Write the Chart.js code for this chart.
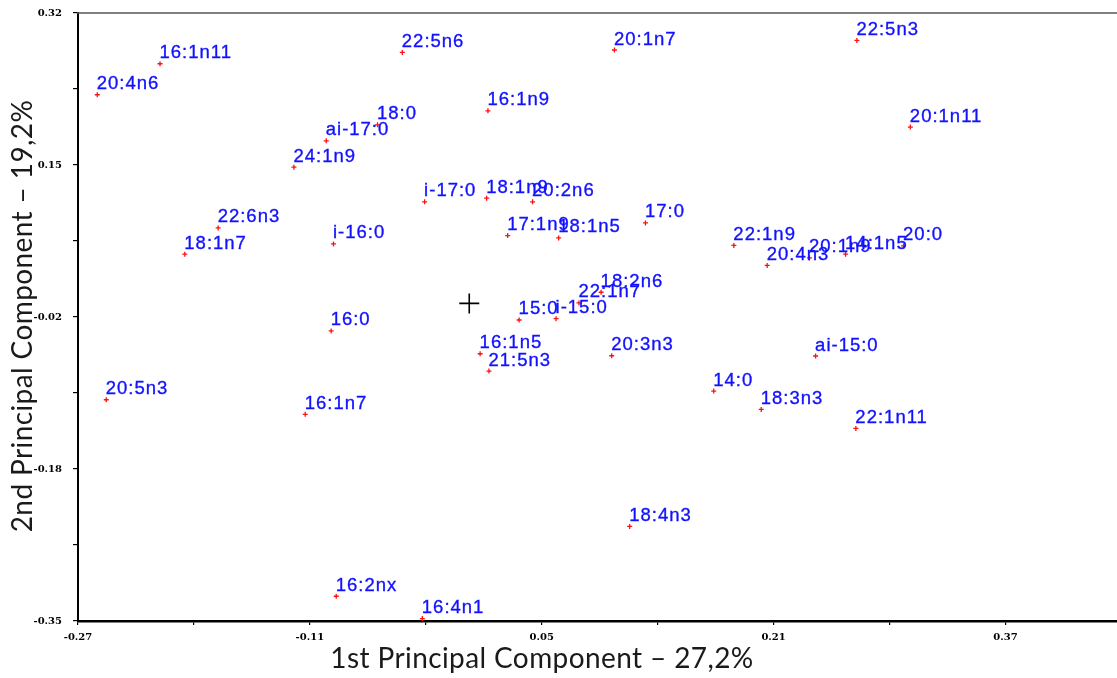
<!DOCTYPE html>
<html>
<head>
<meta charset="utf-8">
<script src="https://cdn.jsdelivr.net/npm/chart.js@4.4.1/dist/chart.umd.min.js"></script>
<style>
  html, body { margin: 0; padding: 0; background: #fff; }
  #wrap { width: 1117px; height: 678px; }
</style>
</head>
<body>
<div id="wrap"><canvas id="pca" width="1117" height="678"></canvas></div>
<script>
// Fatty acid loadings on the first two principal components
const acidNames = [
  '20:4n6', '16:1n11', '22:5n6', '20:1n7', '22:5n3', '16:1n9', '18:0', 'ai-17:0',
  '24:1n9', '20:1n11', 'i-17:0', '18:1n9', '20:2n6', '17:0', '17:1n9', '18:1n5',
  '22:6n3', '18:1n7', 'i-16:0', '22:1n9', '20:4n3', '20:1n9', '14:1n5', '20:0',
  '18:2n6', '22:1n7', '15:0', 'i-15:0', '16:0', '16:1n5', '21:5n3', '20:3n3',
  'ai-15:0', '14:0', '18:3n3', '22:1n11', '20:5n3', '16:1n7', '18:4n3', '16:2nx',
  '16:4n1'
];
const pc1 = [
  -0.2567, -0.2134, -0.0462, 0.1002, 0.2675, 0.0129, -0.0633, -0.0987,
  -0.1210, 0.3044, -0.0308, 0.0120, 0.0437, 0.1216, 0.0265, 0.0617,
  -0.1733, -0.1963, -0.0937, 0.1826, 0.2056, 0.2348, 0.2597, 0.2997,
  0.0910, 0.0757, 0.0344, 0.0599, -0.0953, 0.0075, 0.0136, 0.0983,
  0.2390, 0.1687, 0.2015, 0.2668, -0.2505, -0.1132, 0.1107, -0.0918,
  -0.0324
];
const pc2 = [
  0.2299, 0.2641, 0.2765, 0.2792, 0.2898, 0.2122, 0.1968, 0.1791,
  0.1501, 0.1943, 0.1119, 0.1159, 0.1119, 0.0887, 0.0747, 0.0721,
  0.0832, 0.0542, 0.0655, 0.0639, 0.0418, 0.0501, 0.0542, 0.0633,
  0.0123, 0.0005, -0.0183, -0.0169, -0.0304, -0.0555, -0.0746, -0.0577,
  -0.0580, -0.0966, -0.1168, -0.1378, -0.1062, -0.1223, -0.2458, -0.3227,
  -0.3473
];
const centroid = [0, 0];

// Axis ranges and labelled ticks
const xRange = [-0.27, 0.447];
const yRange = [-0.35, 0.32];
const xTickValues = [-0.27, -0.11, 0.05, 0.21, 0.37];
const xTickLabels = ['-0.27', '-0.11', '0.05', '0.21', '0.37'];
const yTickValues = [0.32, 0.1525, -0.015, -0.1825, -0.35];
const yTickLabels = ['0.32', '0.15', '-0.02', '-0.18', '-0.35'];
const xTitle = '1st Principal Component \u2013 27,2%';
const yTitle = '2nd Principal Component \u2013 19,2%';

// Major ticks plus an unlabelled tick halfway between neighbours
function tickSet(values, lo, hi) {
  const sorted = values.slice().sort((a, b) => a - b);
  const out = sorted.slice();
  const step = sorted[1] - sorted[0];
  for (let i = 0; i < sorted.length; i++) {
    const mid = sorted[i] + step / 2;
    if (mid <= hi + 1e-9) out.push(mid);
  }
  return out.filter(v => v >= lo - 1e-9 && v <= hi + 1e-9).sort((a, b) => a - b);
}
function labelFor(values, labels, v) {
  const i = values.findIndex(m => Math.abs(m - v) < 1e-6);
  return i >= 0 ? labels[i] : '';
}

const points = acidNames.map((n, i) => ({ x: pc1[i], y: pc2[i] }));

const tickFont = { family: 'DejaVu Serif', weight: 'bold', size: 10 };

const pointLabels = {
  id: 'pointLabels',
  afterDatasetsDraw(chart) {
    const ctx = chart.ctx;
    const meta = chart.getDatasetMeta(0);
    ctx.save();
    ctx.font = '18.5px "Liberation Sans", Arial, sans-serif';
    if ('letterSpacing' in ctx) ctx.letterSpacing = '1px';
    ctx.fillStyle = '#1212ff';
    ctx.strokeStyle = '#1212ff';
    ctx.lineWidth = 0.35;
    ctx.textAlign = 'left';
    ctx.textBaseline = 'alphabetic';
    meta.data.forEach((el, i) => {
      ctx.fillText(acidNames[i], el.x - 0.5, el.y - 5.5);
      ctx.strokeText(acidNames[i], el.x - 0.5, el.y - 5.5);
    });
    ctx.restore();
  }
};

const frameAndTitles = {
  id: 'frameAndTitles',
  afterDraw(chart) {
    const ctx = chart.ctx;
    const a = chart.chartArea;
    ctx.save();
    // thin upper frame line
    ctx.strokeStyle = '#555';
    ctx.lineWidth = 1.5;
    ctx.beginPath();
    ctx.moveTo(a.left - 1, a.top);
    ctx.lineTo(a.right, a.top);
    ctx.stroke();
    // axis titles
    ctx.fillStyle = '#1a1a1a';
    ctx.font = '28px Lato, "Open Sans", sans-serif';
    if ('letterSpacing' in ctx) ctx.letterSpacing = '0.4px';
    ctx.textAlign = 'center';
    ctx.textBaseline = 'alphabetic';
    ctx.fillText(xTitle, 542, 668);
    ctx.translate(32, 316);
    ctx.rotate(-Math.PI / 2);
    ctx.fillText(yTitle, 0, 0);
    ctx.restore();
  }
};

new Chart(document.getElementById('pca'), {
  type: 'scatter',
  data: {
    datasets: [
      {
        label: 'loadings',
        data: points,
        pointStyle: 'cross',
        radius: 2.5,
        hoverRadius: 2.5,
        borderColor: '#ff1010',
        backgroundColor: '#ff1010',
        borderWidth: 1.3
      },
      {
        label: 'origin',
        data: [{ x: centroid[0], y: centroid[1] }],
        pointStyle: 'cross',
        radius: 10,
        hoverRadius: 10,
        borderColor: '#000',
        borderWidth: 1.6
      }
    ]
  },
  options: {
    responsive: false,
    animation: false,
    devicePixelRatio: 1,
    layout: { autoPadding: false, padding: { top: 13, right: 0, left: 0, bottom: 0 } },
    plugins: { legend: { display: false }, tooltip: { enabled: false }, title: { display: false } },
    scales: {
      x: {
        type: 'linear',
        min: xRange[0],
        max: xRange[1],
        afterBuildTicks(scale) {
          scale.ticks = tickSet(xTickValues, xRange[0], xRange[1]).map(v => ({ value: v }));
        },
        afterFit(scale) {
          scale.height = 57;
          scale.paddingLeft = 0;
          scale.paddingRight = 0;
        },
        ticks: {
          autoSkip: false,
          maxRotation: 0,
          padding: 6,
          color: '#000',
          font: tickFont,
          callback: (v) => labelFor(xTickValues, xTickLabels, v)
        },
        grid: { display: true, drawOnChartArea: false, drawTicks: true, tickLength: 4, color: '#000', lineWidth: 1.2 },
        border: { display: true, color: '#000', width: 2.5 }
      },
      y: {
        type: 'linear',
        min: yRange[0],
        max: yRange[1],
        afterBuildTicks(scale) {
          scale.ticks = tickSet(yTickValues, yRange[0], yRange[1]).map(v => ({ value: v }));
        },
        afterFit(scale) {
          scale.width = 78;
          scale.paddingTop = 0;
          scale.paddingBottom = 0;
        },
        ticks: {
          autoSkip: false,
          padding: 11,
          color: '#000',
          font: tickFont,
          callback: (v) => labelFor(yTickValues, yTickLabels, v)
        },
        grid: { display: true, drawOnChartArea: false, drawTicks: true, tickLength: 5, color: '#000', lineWidth: 1.2 },
        border: { display: true, color: '#000', width: 2 }
      }
    }
  },
  plugins: [pointLabels, frameAndTitles]
});
</script>
</body>
</html>
